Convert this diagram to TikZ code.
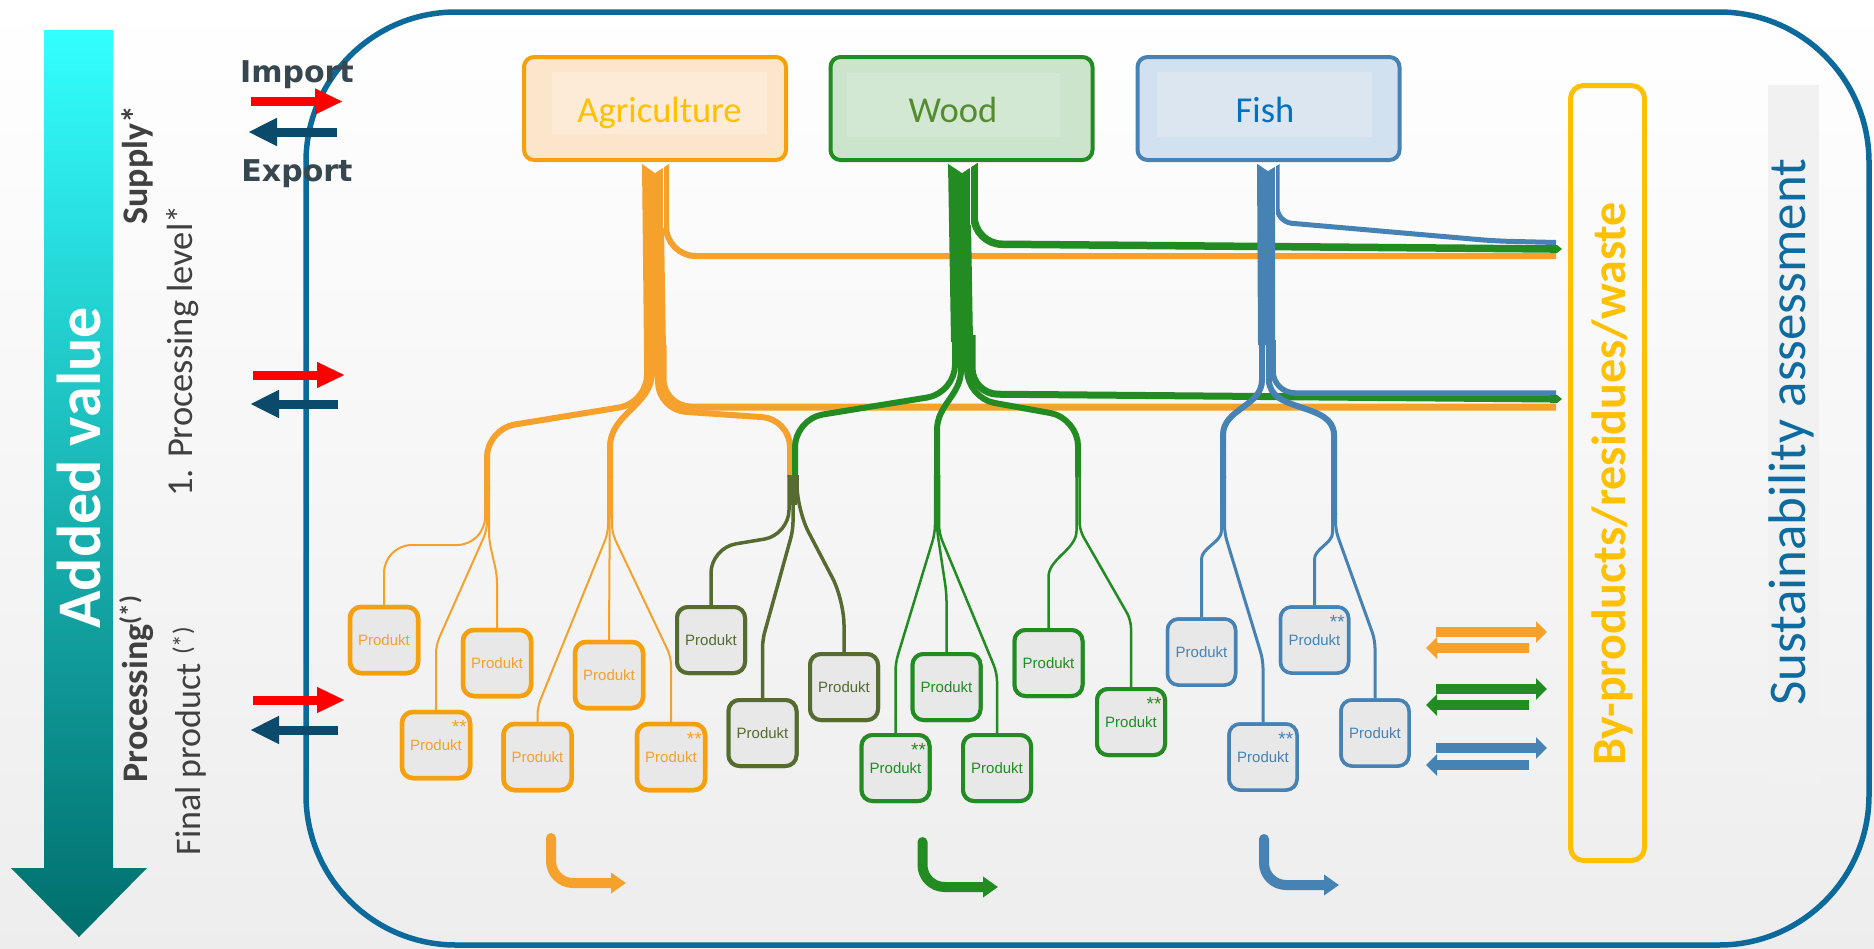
\documentclass[tikz,border=0pt]{standalone}
\usepackage{fontspec}
\newfontfamily\calfont{Carlito}
\newfontfamily\arialfont{Liberation Sans}
\newfontfamily\verdfont{DejaVu Sans}
\usetikzlibrary{arrows.meta}

\definecolor{agri}{HTML}{F6A12B}
\definecolor{agriedge}{HTML}{F5A00F}
\definecolor{agrifill}{HTML}{FBE5CB}
\definecolor{agripanel}{HTML}{FDEBD7}
\definecolor{wood}{HTML}{228B22}
\definecolor{woodfill}{HTML}{CBE4CB}
\definecolor{woodpanel}{HTML}{D3E8D3}
\definecolor{woodtext}{HTML}{548C2F}
\definecolor{olive}{HTML}{556B2F}
\definecolor{fish}{HTML}{4682B4}
\definecolor{fishfill}{HTML}{D2E1EF}
\definecolor{fishpanel}{HTML}{DBE6F1}
\definecolor{fishtext}{HTML}{0070C0}
\definecolor{gold}{HTML}{FFC000}
\definecolor{framecol}{HTML}{0B6A9B}
\definecolor{sustblue}{HTML}{0E6BA0}
\definecolor{darktext}{HTML}{404040}
\definecolor{slate}{HTML}{37474F}
\definecolor{exportblue}{HTML}{0B4A6B}
\definecolor{prodfill}{HTML}{E8E8E8}
\definecolor{sustfill}{HTML}{F1F1F1}
\definecolor{cyantop}{HTML}{33FFFF}
\definecolor{tealbottom}{HTML}{006E6C}

\tikzset{
  prod/.style={draw, rounded corners=11, minimum width=68, minimum height=66,
    inner sep=0, fill=prodfill, font={\arialfont\fontsize{15}{15}\selectfont}},
  agprod/.style={prod, draw=agriedge, text=agri, line width=4.5},
  olprod/.style={prod, draw=olive, text=olive, line width=4},
  wdprod/.style={prod, draw=wood, text=wood, line width=4},
  fsprod/.style={prod, draw=fish, text=fish, line width=3.5},
  stars/.style={inner sep=0, font={\arialfont\fontsize{19}{19}\selectfont}},
  topbox/.style={rounded corners=10, line width=4, minimum width=262,
    minimum height=103, inner sep=0},
  toplabel/.style={anchor=base, inner sep=0, font={\calfont\fontsize{36.5}{36}\selectfont}},
  sidelabel/.style={rotate=90, anchor=base, inner sep=0, text=darktext},
  branch/.style={line width=6, rounded corners=28},
  thickline/.style={line width=6},
  agleaf/.style={agri, line width=2, rounded corners=8},
  olleaf/.style={olive, line width=3.5, rounded corners=8},
  wdleaf/.style={wood, line width=2.5, rounded corners=8},
  fsleaf/.style={fish, line width=3, rounded corners=8},
  imparrow/.style={red, line width=9, -{Triangle[length=28pt,width=24pt]}},
  exparrow/.style={exportblue, line width=9, -{Triangle[length=29pt,width=26pt]}},
  sidearrow/.style={line width=10, -{Triangle[length=11pt,width=21pt]}},
  bentarrow/.style={line width=10, rounded corners=22, line cap=round,
    -{Triangle[length=15pt,width=20pt]}},
}

\begin{document}
\begin{tikzpicture}[x=1pt, y=1pt, line join=round]
\useasboundingbox (0,0) rectangle (1874,-948);
\shade[top color=white, middle color=white, bottom color=black!7] (0,0) rectangle (1874,-948);

% added value arrow on the left
\shade[top color=cyantop, bottom color=tealbottom]
  (44,-30) -- (113,-30) -- (113,-868) -- (147,-868) -- (79,-937) -- (11,-868) -- (44,-868) -- cycle;
\node[rotate=90, anchor=base, inner sep=0, text=white,
  font={\calfont\bfseries\fontsize{62}{62}\selectfont}] (addedvalue) at (100,-468) {Added value};

% level labels
\node[sidelabel, font={\calfont\bfseries\fontsize{36}{36}\selectfont}] (supply) at (147,-165) {Supply*};
\node[sidelabel, font={\calfont\fontsize{36.5}{36}\selectfont}] (level) at (192,-351) {1. Processing level*};
\node[sidelabel, font={\calfont\bfseries\fontsize{36}{36}\selectfont}] (processing) at (147,-689) {Processing\textsuperscript{(*)}};
\node[sidelabel, font={\calfont\fontsize{36}{36}\selectfont}] (final) at (200,-741) {Final product \textsuperscript{(*)}};

% outer frame
\draw[framecol, line width=5.5, rounded corners=150] (306,-12) rectangle (1869,-945);

% import / export
\node[anchor=base, inner sep=0, text=slate, font={\verdfont\bfseries\fontsize{30}{30}\selectfont}] (import) at (297,-82) {Import};
\node[anchor=base, inner sep=0, text=slate, font={\verdfont\bfseries\fontsize{30}{30}\selectfont}] (export) at (297,-181) {Export};
\draw[imparrow] (251,-101.5) -- (343,-101.5);
\draw[exparrow] (337,-132) -- (248,-132);
\draw[imparrow] (253,-375) -- (345,-375);
\draw[exparrow] (338,-404) -- (250,-404);
\draw[imparrow] (253,-700) -- (345,-700);
\draw[exparrow] (338,-730) -- (250,-730);

% streams to by-products, first level
\draw[agri, line width=6, rounded corners=30] (666,-163) -- (666,-256) -- (1556,-256);
\draw[wood, line width=7.5, rounded corners=28] (974,-163) -- (974,-244) -- (1552,-249);
\draw[fish, line width=5, rounded corners=15] (1277,-163) -- (1277,-222) -- (1495,-241) -- (1556,-242.5);
\fill[wood] (1550,-245) -- (1557,-245) -- (1562,-249) -- (1557,-253) -- (1550,-253) -- cycle;
% streams to by-products, second level
\draw[agri, line width=7, rounded corners=28] (663,-345) -- (663,-407) -- (1556,-407);
\draw[wood, line width=7, rounded corners=26] (972,-335) -- (972,-394) -- (1552,-399);
\draw[fish, line width=5.5, rounded corners=22] (1273,-340) -- (1273,-393) -- (1556,-393);
\fill[wood] (1550,-395) -- (1557,-395) -- (1562,-399) -- (1557,-403) -- (1550,-403) -- cycle;

% trunks
\fill[agri] (642,-163) -- (663,-163) -- (666,-352) -- (644,-352) -- cycle;
\fill[wood] (948,-163) -- (970,-163) -- (973,-342) -- (951,-342) -- cycle;
\fill[fish] (1257,-163) -- (1275,-163) -- (1275,-345) -- (1258,-345) -- cycle;
\draw[white, line width=0.8] (663.5,-165) -- (663.5,-228);
\draw[white, line width=0.8] (970.5,-165) -- (970.5,-225);
\draw[white, line width=0.8] (1275,-165) -- (1275,-215);
\fill[white] (641,-163) -- (655,-173) -- (670,-163) -- cycle;
\fill[white] (947,-163) -- (962,-173) -- (977,-163) -- cycle;
\fill[white] (1256,-163) -- (1268,-171) -- (1281,-163) -- cycle;

% main branches
\draw[agri, branch] (647,-340) -- (647,-403) -- (487,-429) -- (487,-490);
\draw[agri, thickline] (652,-340) -- (652,-372) to[out=-90,in=90] (610,-447) -- (610,-478);
\draw[agri, branch] (658,-340) -- (658,-410) -- (790,-419) -- (790,-477);
\draw[wood, branch] (955,-335) -- (955,-393) -- (795,-419) -- (795,-477);
\draw[wood, thickline] (961,-335) -- (961,-370) to[out=-90,in=90] (937,-430) -- (937,-477);
\draw[wood, branch] (967,-335) -- (967,-398) -- (1078,-418) -- (1078,-477);
\draw[fish, thickline] (1262,-340) -- (1262,-380) to[out=-90,in=90] (1223,-435) -- (1223,-478);
\draw[fish, thickline] (1269,-340) -- (1269,-380) to[out=-90,in=90] (1334,-435) -- (1334,-515);
\draw[olive, line width=9] (792.5,-476) -- (792.5,-505);

% bundle points
\coordinate (agA) at (487,-486);
\coordinate (agB) at (610,-476);
\coordinate (olA) at (793,-475);
\coordinate (wdA) at (937,-475);
\coordinate (wdB) at (1078,-475);
\coordinate (fsA) at (1223,-476);
\coordinate (fsB) at (1334,-513);

% product boxes
\node[agprod] (agP1) at (384,-640) {Produkt};
\node[agprod] (agP2) at (436,-745) {Produkt};
\node[agprod] (agP3) at (497,-663) {Produkt};
\node[agprod] (agP4) at (537.5,-757) {Produkt};
\node[agprod] (agP5) at (609,-675) {Produkt};
\node[agprod] (agP6) at (671,-757) {Produkt};
\node[olprod] (olP1) at (711,-640) {Produkt};
\node[olprod] (olP2) at (762.5,-733) {Produkt};
\node[olprod] (olP3) at (844,-687) {Produkt};
\node[wdprod] (wdP1) at (895.5,-768) {Produkt};
\node[wdprod] (wdP2) at (946.5,-687) {Produkt};
\node[wdprod] (wdP3) at (997,-768) {Produkt};
\node[wdprod] (wdP4) at (1048.5,-663) {Produkt};
\node[wdprod] (wdP5) at (1131,-722) {Produkt};
\node[fsprod] (fsP1) at (1201.5,-652) {Produkt};
\node[fsprod] (fsP2) at (1263,-757) {Produkt};
\node[fsprod] (fsP3) at (1314.5,-640) {Produkt};
\node[fsprod] (fsP4) at (1375,-733) {Produkt};

% leaves
\draw[agleaf, rounded corners=28] ([xshift=-2pt]agA) -- (485,-545) -- (384,-545) -- (agP1.north);
\draw[agleaf] (agA) -- (487,-530) -- (436,-645) -- (agP2.north);
\draw[agleaf] ([xshift=2pt]agA) -- (489,-540) -- (497,-575) -- (agP3.north);
\draw[agleaf] ([xshift=-2pt]agB) -- (608,-533) -- (537.5,-707) -- (agP4.north);
\draw[agleaf] (agB) -- (agP5.north);
\draw[agleaf] ([xshift=2pt]agB) -- (612,-533) -- (671,-657) -- (agP6.north);
\draw[olleaf, rounded corners=25] ([xshift=-4pt]olA) -- (789,-535) -- (711,-548) -- (olP1.north);
\draw[olleaf] (olA) -- (793,-530) -- (762.5,-640) -- (olP2.north);
\draw[olleaf, rounded corners=25] ([xshift=4pt]olA) -- (797,-510) -- (844,-600) -- (olP3.north);
\draw[wdleaf] ([xshift=-2pt]wdA) -- (935,-533) -- (895.5,-663) -- (wdP1.north);
\draw[wdleaf] (wdA) -- (937,-530) -- (946.5,-593) -- (wdP2.north);
\draw[wdleaf] ([xshift=2pt]wdA) -- (939,-533) -- (997,-673) -- (wdP3.north);
\draw[wdleaf] ([xshift=-1.5pt]wdB) -- (1076.5,-523) to[out=-90,in=90] (1048.5,-585) -- (wdP4.north);
\draw[wdleaf] ([xshift=1.5pt]wdB) -- (1079.5,-530) -- (1131,-620) -- (wdP5.north);
\draw[fsleaf] ([xshift=-1.5pt]fsA) -- (1221.5,-523) to[out=-90,in=90] (1201.5,-567) -- (fsP1.north);
\draw[fsleaf] ([xshift=1.5pt]fsA) -- (1224.5,-533) -- (1263,-660) -- (fsP2.north);
\draw[fsleaf] ([xshift=-1.5pt]fsB) -- (1332.5,-525) to[out=-90,in=90] (1314.5,-567) -- (fsP3.north);
\draw[fsleaf] ([xshift=1.5pt]fsB) -- (1335.5,-530) -- (1375,-640) -- (fsP4.north);

% redraw boxes over the leaf ends
\foreach \n/\s in {agP1/agprod,agP2/agprod,agP3/agprod,agP4/agprod,agP5/agprod,agP6/agprod,
  olP1/olprod,olP2/olprod,olP3/olprod,wdP1/wdprod,wdP2/wdprod,wdP3/wdprod,wdP4/wdprod,wdP5/wdprod,
  fsP1/fsprod,fsP2/fsprod,fsP3/fsprod,fsP4/fsprod}
  \node[\s] at (\n.center) {Produkt};

% second-level markers
\node[stars, text=agri] (agS2) at ([xshift=-13pt,yshift=-17pt]agP2.north east) {**};
\node[stars, text=agri] (agS6) at ([xshift=-13pt,yshift=-17pt]agP6.north east) {**};
\node[stars, text=wood] (wdS1) at ([xshift=-13pt,yshift=-17pt]wdP1.north east) {**};
\node[stars, text=wood] (wdS5) at ([xshift=-13pt,yshift=-17pt]wdP5.north east) {**};
\node[stars, text=fish] (fsS2) at ([xshift=-13pt,yshift=-17pt]fsP2.north east) {**};
\node[stars, text=fish] (fsS3) at ([xshift=-13pt,yshift=-17pt]fsP3.north east) {**};

% resource boxes
\node[topbox, draw=agriedge, fill=agrifill] (agri) at (655,-108.5) {};
\fill[agripanel] (552,-72) rectangle (767,-134);
\node[toplabel, text=gold] (agriLabel) at (659.5,-122) {Agriculture};
\node[topbox, draw=wood, fill=woodfill] (woodbox) at (961.5,-108.5) {};
\fill[woodpanel] (847,-73) rectangle (1060,-137);
\node[toplabel, text=woodtext] (woodLabel) at (953,-122) {Wood};
\node[topbox, draw=fish, fill=fishfill] (fishbox) at (1268.5,-108.5) {};
\fill[fishpanel] (1157,-72) rectangle (1372,-137);
\node[toplabel, text=fishtext] (fishLabel) at (1265,-122) {Fish};

% by-products column
\node[draw=gold, line width=5, rounded corners=13, minimum width=74, minimum height=775, inner sep=0] (byprod) at (1607.5,-473) {};
\node[rotate=90, anchor=base, inner sep=0, text=gold,
  font={\calfont\bfseries\fontsize{48}{48}\selectfont}] (byprodLabel) at (1625,-484) {By-products/residues/waste};

% sustainability column
\fill[sustfill] (1768,-85) rectangle (1819,-783);
\node[rotate=90, anchor=base, inner sep=0, text=sustblue,
  font={\calfont\fontsize{53}{53}\selectfont}] (sustain) at (1805,-432) {Sustainability assessment};

% exchange arrows
\draw[agri, sidearrow] (1436,-632) -- (1547,-632);
\draw[agri, sidearrow] (1529,-648) -- (1426,-648);
\draw[wood, sidearrow] (1436,-689) -- (1547,-689);
\draw[wood, sidearrow] (1529,-705) -- (1426,-705);
\draw[fish, sidearrow] (1436,-748) -- (1547,-748);
\draw[fish, sidearrow] (1529,-765) -- (1426,-765);

% bent arrows at the bottom
\draw[agri, bentarrow] (551,-838) -- (551,-883) -- (626,-883);
\draw[wood, bentarrow] (922.5,-842) -- (922.5,-887) -- (998,-887);
\draw[fish, bentarrow] (1264,-839) -- (1264,-885) -- (1339,-885);
\end{tikzpicture}
\end{document}
